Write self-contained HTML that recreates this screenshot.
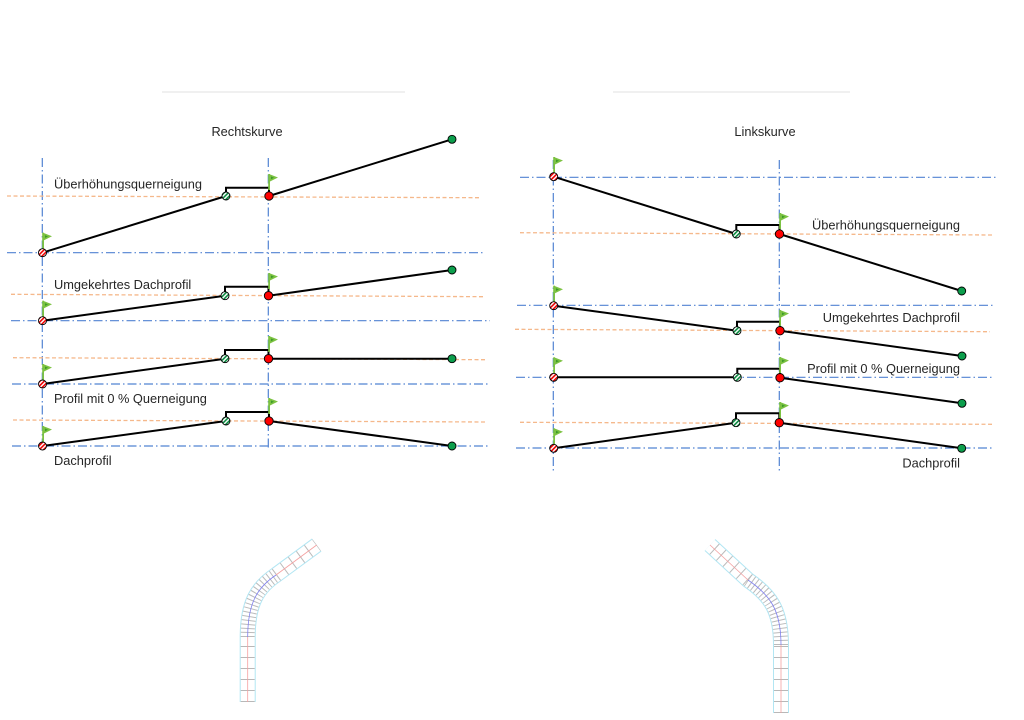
<!DOCTYPE html>
<html><head><meta charset="utf-8"><style>
html,body{margin:0;padding:0;background:#fff;}
svg{display:block;}
text{font-family:"Liberation Sans",sans-serif;fill:#262626;}
</style></head><body>
<svg width="1024" height="720" viewBox="0 0 1024 720" xmlns="http://www.w3.org/2000/svg">
<defs>
<pattern id="hr" patternUnits="userSpaceOnUse" width="3" height="3" patternTransform="rotate(45)">
<rect width="3" height="3" fill="#fff"/><rect width="1.6" height="3" fill="#e00"/></pattern>
<pattern id="hg" patternUnits="userSpaceOnUse" width="3" height="3" patternTransform="rotate(45)">
<rect width="3" height="3" fill="#fff"/><rect width="1.6" height="3" fill="#0a8a40"/></pattern>
<g id="flag"><rect x="-0.8" y="0" width="1.8" height="16" fill="#7cc242"/><polygon points="0,0 9,3.5 0,8" fill="#7cc242"/><polygon points="2,2.5 5,3.8 2,5.2" fill="#3d9a2a"/></g>
</defs>

<line x1="162" y1="92" x2="405" y2="92" stroke="#ececec" stroke-width="1.5"/>
<line x1="613" y1="92" x2="850" y2="92" stroke="#ececec" stroke-width="1.5"/>

<text x="247" y="136" font-size="12.8" text-anchor="middle">Rechtskurve</text>
<text x="765" y="136" font-size="12.8" text-anchor="middle">Linkskurve</text>

<g fill="none" stroke-width="1.2">
<g stroke="#5283d2" stroke-dasharray="9 3 1.5 3">
<line x1="42.3" y1="158" x2="42.3" y2="450"/>
<line x1="268.3" y1="158" x2="268.3" y2="450"/>
<line x1="553.3" y1="160" x2="553.3" y2="473"/>
<line x1="779.3" y1="160" x2="779.3" y2="473"/>
<line x1="7" y1="252.7" x2="485" y2="252.7"/>
<line x1="11" y1="320.7" x2="490" y2="320.7"/>
<line x1="12" y1="384" x2="490" y2="384"/>
<line x1="12" y1="446" x2="490" y2="446"/>
<line x1="520" y1="177.3" x2="997" y2="177.3"/>
<line x1="517" y1="305.3" x2="993" y2="305.3"/>
<line x1="516" y1="377.3" x2="993" y2="377.3"/>
<line x1="516" y1="448" x2="993" y2="448"/>
</g>
<g stroke="#f5b88b" stroke-dasharray="4 2.5" stroke-width="1.3">
<line x1="7" y1="196" x2="480" y2="197.7"/>
<line x1="11" y1="294.3" x2="485" y2="296.7"/>
<line x1="13" y1="357.7" x2="487" y2="359.7"/>
<line x1="13" y1="420" x2="487" y2="422"/>
<line x1="520" y1="232.7" x2="993" y2="235"/>
<line x1="515" y1="329.3" x2="990" y2="331.7"/>
<line x1="520" y1="422.3" x2="993" y2="424.3"/>
</g>
</g>

<g fill="none" stroke="#000" stroke-width="2" stroke-linejoin="miter">
<polyline points="42.5,252.7 226,196"/><polyline points="269,196 452,139.3"/>
<polyline points="226,196 226,187.7 269,187.7 269,196"/>
<polyline points="42.5,320.7 225,295.7"/><polyline points="268.5,295.7 452,270"/>
<polyline points="225,295.7 225,286.7 268.5,286.7 268.5,295.7"/>
<polyline points="42.5,384 225,358.7"/><polyline points="268.5,358.7 452,358.7"/>
<polyline points="225,358.7 225,350 268.5,350 268.5,358.7"/>
<polyline points="42.5,446 226,421"/><polyline points="269,421 452,446"/>
<polyline points="226,421 226,412 269,412 269,421"/>
<polyline points="553.7,176.7 736.3,234"/><polyline points="779.5,234 961.7,291"/>
<polyline points="736.3,234 736.3,225 779.5,225 779.5,234"/>
<polyline points="553.7,305.7 737,330.7"/><polyline points="780,330.7 962,356"/>
<polyline points="737,330.7 737,321.7 780,321.7 780,330.7"/>
<polyline points="553.7,377.3 737.3,377.3"/><polyline points="780,377.7 962,403.3"/>
<polyline points="737.3,377.3 737.3,368.7 780,368.7 780,377.7"/>
<polyline points="553.7,448.3 736,422.7"/><polyline points="779.3,422.7 961.7,448.3"/>
<polyline points="736,422.7 736,413.3 779.3,413.3 779.3,422.7"/>
</g>

<use href="#flag" x="43" y="232.7"/>
<use href="#flag" x="269" y="174"/>
<use href="#flag" x="43" y="300.7"/>
<use href="#flag" x="269" y="273"/>
<use href="#flag" x="43" y="364"/>
<use href="#flag" x="269" y="336"/>
<use href="#flag" x="43" y="426"/>
<use href="#flag" x="269" y="398"/>
<use href="#flag" x="554" y="157"/>
<use href="#flag" x="780" y="213"/>
<use href="#flag" x="554" y="285.7"/>
<use href="#flag" x="780" y="310"/>
<use href="#flag" x="554" y="357.3"/>
<use href="#flag" x="780" y="357"/>
<use href="#flag" x="554" y="428.3"/>
<use href="#flag" x="780" y="402"/>

<g stroke="#000" stroke-width="0.9">
<circle cx="42.5" cy="252.7" r="4" fill="url(#hr)"/>
<circle cx="226" cy="196" r="4" fill="url(#hg)"/>
<circle cx="269" cy="196" r="4.2" fill="#f00"/>
<circle cx="452" cy="139.3" r="4" fill="#0c9e4c"/>
<circle cx="42.5" cy="320.7" r="4" fill="url(#hr)"/>
<circle cx="225" cy="295.7" r="4" fill="url(#hg)"/>
<circle cx="268.5" cy="295.7" r="4.2" fill="#f00"/>
<circle cx="452" cy="270" r="4" fill="#0c9e4c"/>
<circle cx="42.5" cy="384" r="4" fill="url(#hr)"/>
<circle cx="225" cy="358.7" r="4" fill="url(#hg)"/>
<circle cx="268.5" cy="358.7" r="4.2" fill="#f00"/>
<circle cx="452" cy="358.7" r="4" fill="#0c9e4c"/>
<circle cx="42.5" cy="446" r="4" fill="url(#hr)"/>
<circle cx="226" cy="421" r="4" fill="url(#hg)"/>
<circle cx="269" cy="421" r="4.2" fill="#f00"/>
<circle cx="452" cy="446" r="4" fill="#0c9e4c"/>

<circle cx="553.7" cy="176.7" r="4" fill="url(#hr)"/>
<circle cx="736.3" cy="234" r="4" fill="url(#hg)"/>
<circle cx="779.5" cy="234" r="4.2" fill="#f00"/>
<circle cx="961.7" cy="291" r="4" fill="#0c9e4c"/>
<circle cx="553.7" cy="305.7" r="4" fill="url(#hr)"/>
<circle cx="737" cy="330.7" r="4" fill="url(#hg)"/>
<circle cx="780" cy="330.7" r="4.2" fill="#f00"/>
<circle cx="962" cy="356" r="4" fill="#0c9e4c"/>
<circle cx="553.7" cy="377.3" r="4" fill="url(#hr)"/>
<circle cx="737.3" cy="377.3" r="4" fill="url(#hg)"/>
<circle cx="780" cy="377.7" r="4.2" fill="#f00"/>
<circle cx="962" cy="403.3" r="4" fill="#0c9e4c"/>
<circle cx="553.7" cy="448.3" r="4" fill="url(#hr)"/>
<circle cx="736" cy="422.7" r="4" fill="url(#hg)"/>
<circle cx="779.3" cy="422.7" r="4.2" fill="#f00"/>
<circle cx="961.7" cy="448.3" r="4" fill="#0c9e4c"/>
</g>

<g font-size="12.8">
<text x="54" y="188.5">Überhöhungsquerneigung</text>
<text x="54" y="289">Umgekehrtes Dachprofil</text>
<text x="54" y="403">Profil mit 0 % Querneigung</text>
<text x="54" y="465">Dachprofil</text>
<text x="960" y="229.5" text-anchor="end">Überhöhungsquerneigung</text>
<text x="960" y="322" text-anchor="end">Umgekehrtes Dachprofil</text>
<text x="960" y="373" text-anchor="end">Profil mit 0 % Querneigung</text>
<text x="960" y="467.5" text-anchor="end">Dachprofil</text>
</g>

<g fill="none">
<path d="M247.7,702 L247.7,637 C247.7,602 258,587 276,575 L316.7,545" stroke="#b2e6f3" stroke-width="16"/>
<path d="M247.7,702 L247.7,637 C247.7,602 258,587 276,575 L316.7,545" stroke="#fff" stroke-width="14"/>
<path d="M247.7,702 L247.7,637" stroke="#b8b8b8" stroke-width="14" stroke-dasharray="1 10"/>
<path d="M247.7,637 C247.7,602 258,587 276,575" stroke="#bbb" stroke-width="14" stroke-dasharray="1 3"/>
<path d="M276,575 L316.7,545" stroke="#bbb" stroke-width="14" stroke-dasharray="1 9"/>
<path d="M247.7,702 L247.7,637" stroke="#f4a0a0" stroke-width="0.8"/>
<path d="M247.7,637 C247.7,602 258,587 276,575" stroke="#8080f0" stroke-width="0.8"/>
<path d="M276,575 L316.7,545" stroke="#f4a0a0" stroke-width="0.8"/>

<path d="M781,713 L781,645 C781,610 770,595 748,580 L710,545" stroke="#b2e6f3" stroke-width="16"/>
<path d="M781,713 L781,645 C781,610 770,595 748,580 L710,545" stroke="#fff" stroke-width="14"/>
<path d="M781,713 L781,645" stroke="#b8b8b8" stroke-width="14" stroke-dasharray="1 10"/>
<path d="M781,645 C781,610 770,595 748,580" stroke="#bbb" stroke-width="14" stroke-dasharray="1 3"/>
<path d="M748,580 L710,545" stroke="#bbb" stroke-width="14" stroke-dasharray="1 8"/>
<path d="M781,713 L781,645" stroke="#f4a0a0" stroke-width="0.8"/>
<path d="M781,645 C781,610 770,595 748,580" stroke="#8080f0" stroke-width="0.8"/>
<path d="M748,580 L710,545" stroke="#f4a0a0" stroke-width="0.8"/>
</g>
</svg>
</body></html>
